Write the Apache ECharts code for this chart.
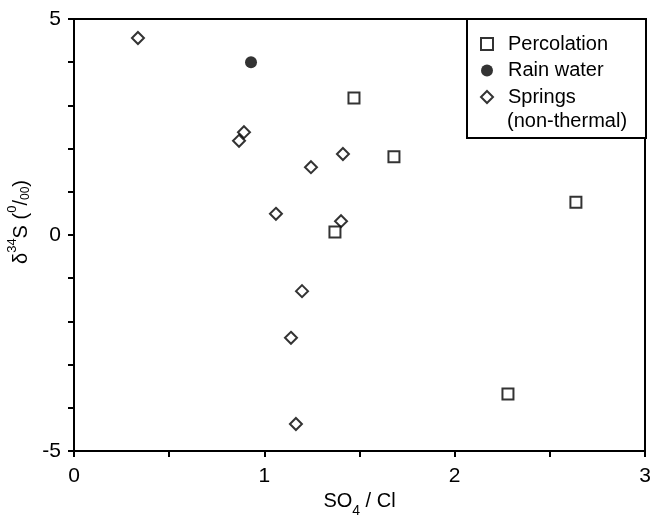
<!DOCTYPE html>
<html><head><meta charset="utf-8">
<script src="https://cdn.jsdelivr.net/npm/echarts@6/dist/echarts.min.js"></script>
<style>html,body{margin:0;padding:0;background:#fff}#c{width:654px;height:516px}</style>
</head><body><div id="c"></div>
<script>
var percolation = [[1.471, 3.17], [1.681, 1.81], [1.371, 0.07], [2.637, 0.76], [2.280, -3.68]];
var rainWater = [[0.930, 4.0]];
var springs = [[0.336, 4.56], [0.893, 2.38], [0.867, 2.18], [1.413, 1.875], [1.245, 1.57],
  [1.061, 0.49], [1.403, 0.32], [1.198, -1.30], [1.140, -2.38], [1.166, -4.375]];
var xTickLabels = [0, 1, 2, 3];
var yTickLabels = [-5, 0, 5];
var seriesNames = ['Percolation', 'Rain water', 'Springs'];
var springsNote = '(non-thermal)';

var font = 'Liberation Sans, Arial, sans-serif';
var fs = 20, tfs = 21;
var cv = document.createElement('canvas').getContext('2d');
cv.font = fs + 'px ' + font;
var wMax = Math.max.apply(null, seriesNames.map(function (s) { return cv.measureText(s).width; }));
var legLeft = 467, legRight = 645;
var padR = Math.max(4, (legRight - legLeft) - (13 + 12 + 5 + 10 + wMax));

var chart = echarts.init(document.getElementById('c'));
var hollow = {color: '#fff', borderColor: '#000', borderWidth: 2};
chart.setOption({
  animation: false,
  textStyle: {fontFamily: font},
  grid: {left: 74, right: 9, top: 19, bottom: 65, containLabel: false, outerBoundsMode: 'none',
    show: true, borderColor: '#000', borderWidth: 2},
  legend: {
    orient: 'vertical', left: legLeft, top: 19,
    backgroundColor: '#fff', borderColor: '#000', borderWidth: 2,
    padding: [15, padR, 31, 13], itemGap: 6.5, itemWidth: 12, itemHeight: 12,
    textStyle: {fontSize: fs, color: '#000', fontFamily: font, padding: [0, 0, 0, 10]},
    data: seriesNames
  },
  graphic: [{
    type: 'text', left: 507, top: 111, z: 100,
    style: {text: springsNote, font: fs + 'px ' + font, fill: '#000'}
  }],
  xAxis: {
    type: 'value', min: 0, max: 3, interval: 0.5,
    name: '{a|SO}{b|4}{a| / Cl}', nameLocation: 'middle', nameGap: 38,
    nameTextStyle: {rich: {
      a: {fontSize: fs, fontFamily: font, color: '#000', verticalAlign: 'top', lineHeight: 26},
      b: {fontSize: 14, fontFamily: font, color: '#000', verticalAlign: 'bottom', lineHeight: 26}
    }},
    axisLine: {onZero: false, lineStyle: {color: '#000', width: 2}},
    axisTick: {length: 6, lineStyle: {color: '#000', width: 2}},
    splitLine: {show: false},
    axisLabel: {fontSize: tfs, color: '#000', fontFamily: font, margin: 15,
      formatter: function (v) { return xTickLabels.indexOf(v) >= 0 ? String(v) : ''; }}
  },
  yAxis: {
    type: 'value', min: -5, max: 5, interval: 1,
    name: '{a|δ}{s|34}{a|S (}{s|0}{a|/}{b|00}{a|)}', nameLocation: 'middle', nameGap: 37, nameRotate: 90,
    nameTextStyle: {padding: [0, 0, 0, 26], rich: {
      a: {fontSize: fs, fontFamily: font, color: '#000', verticalAlign: 'bottom', lineHeight: 26},
      s: {fontSize: 13, fontFamily: font, color: '#000', verticalAlign: 'top', lineHeight: 26},
      b: {fontSize: 12, fontFamily: font, color: '#000', verticalAlign: 'bottom', lineHeight: 26}
    }},
    axisLine: {onZero: false, lineStyle: {color: '#000', width: 2}},
    axisTick: {length: 6, lineStyle: {color: '#000', width: 2}},
    splitLine: {show: false},
    axisLabel: {fontSize: tfs, color: '#000', fontFamily: font, margin: 13,
      formatter: function (v) { return yTickLabels.indexOf(v) >= 0 ? String(v) : ''; }}
  },
  series: [
    {name: seriesNames[0], type: 'scatter', symbol: 'rect', symbolSize: 11, data: percolation, itemStyle: hollow, z: 3},
    {name: seriesNames[1], type: 'scatter', symbol: 'circle', symbolSize: 12, data: rainWater, itemStyle: {color: '#000'}, z: 3},
    {name: seriesNames[2], type: 'scatter', symbol: 'diamond', symbolSize: 12, data: springs, itemStyle: hollow, z: 2}
  ]
});
</script></body></html>
